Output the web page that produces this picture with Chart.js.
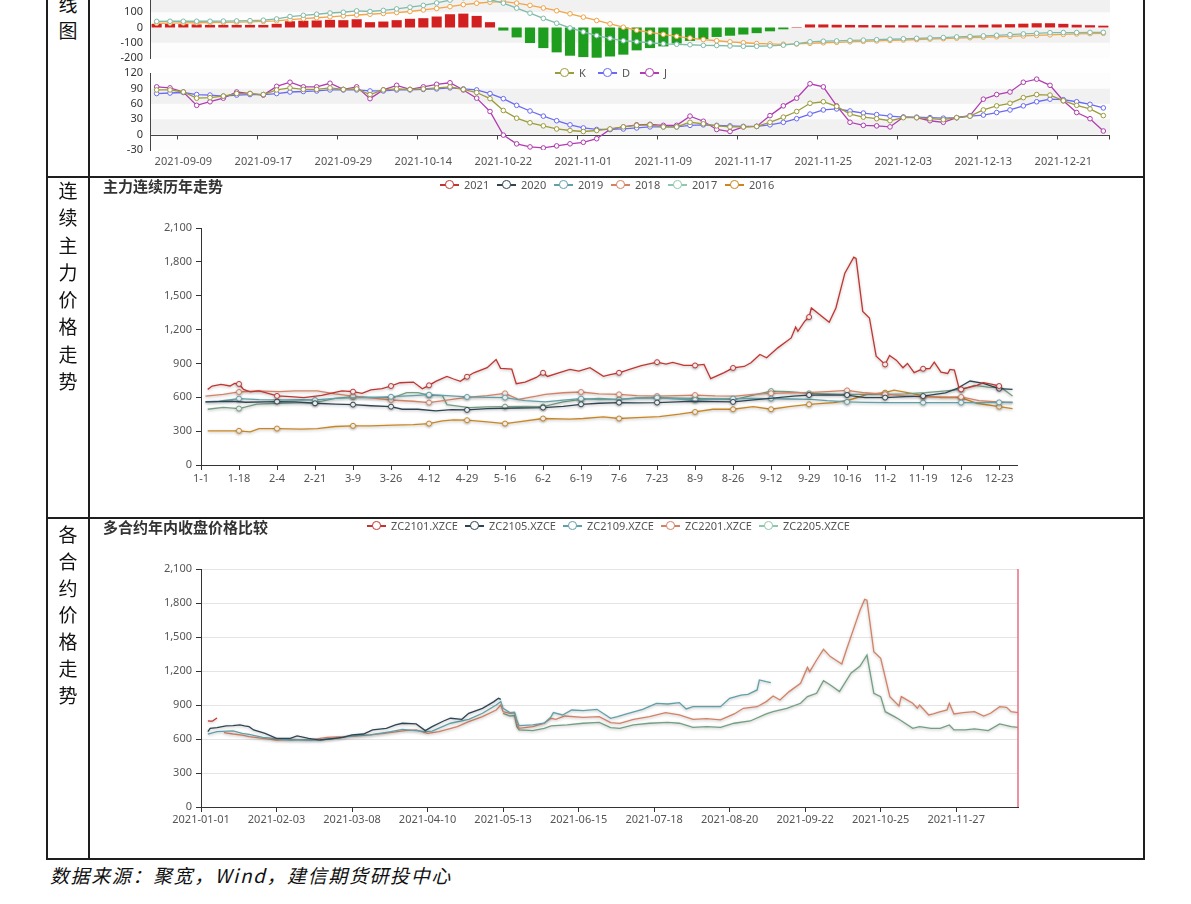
<!DOCTYPE html>
<html>
<head>
<meta charset="utf-8">
<script src="https://cdn.jsdelivr.net/npm/chart.js@4.4.1/dist/chart.umd.min.js"></script>
<style>
  body { margin: 0; width: 1191px; height: 904px; position: relative; overflow: hidden; background: #fff; font-family: "Noto Sans", "Noto Sans CJK SC", sans-serif; }
  canvas { position: absolute; }
  .ln { position: absolute; background: #1e1e1e; }
  .side { position: absolute; left: 47px; width: 42px; text-align: center; font-family: "Noto Sans CJK SC", sans-serif; font-size: 19px; color: #111; }
  .ttl { position: absolute; left: 103px; font-family: "Noto Sans CJK SC", sans-serif; font-weight: bold; font-size: 15px; line-height: 18px; color: #333; }
  .lg { position: absolute; font-size: 11px; line-height: 12px; color: #555; white-space: nowrap; }
  .ic { display: inline-block; position: relative; width: 19px; height: 1.5px; background: var(--c); vertical-align: middle; margin-right: 5px; top: -1px; }
  .ic::after { content: ""; position: absolute; left: 5px; top: -4px; width: 6.5px; height: 6.5px; border: 1.5px solid var(--c); border-radius: 50%; background: #fff; }
  .foot { position: absolute; left: 50px; top: 861px; font-family: "Noto Sans CJK SC", sans-serif; font-style: italic; font-size: 19px; letter-spacing: 1.6px; color: #111; }
</style>
</head>
<body>

<canvas id="macd" width="1053" height="93" style="left:90px;top:-20px"></canvas>
<canvas id="kdj" width="1053" height="116" style="left:90px;top:59px"></canvas>
<canvas id="hist" width="1053" height="320" style="left:90px;top:195px"></canvas>
<canvas id="contracts" width="1053" height="320" style="left:90px;top:536px"></canvas>

<!-- table frame -->
<div class="ln" style="left:46px;top:0;width:2px;height:860px"></div>
<div class="ln" style="left:88px;top:0;width:2px;height:860px"></div>
<div class="ln" style="left:1143px;top:0;width:2px;height:860px"></div>
<div class="ln" style="left:46px;top:176px;width:1099px;height:2px"></div>
<div class="ln" style="left:46px;top:517px;width:1099px;height:2px"></div>
<div class="ln" style="left:46px;top:858px;width:1099px;height:2px"></div>

<div class="side" style="top:-9px;line-height:26px">线<br>图</div>
<div class="side" style="top:176px;line-height:27.3px">连<br>续<br>主<br>力<br>价<br>格<br>走<br>势</div>
<div class="side" style="top:521px;line-height:26.8px">各<br>合<br>约<br>价<br>格<br>走<br>势</div>

<div class="ttl" style="top:177px">主力连续历年走势</div>
<div class="ttl" style="top:518px">多合约年内收盘价格比较</div>

<div class="lg" style="left:555px;top:67px"><i class="ic" style="--c:#9c9c3c"></i>K</div>
<div class="lg" style="left:598px;top:67px"><i class="ic" style="--c:#6b6bf2"></i>D</div>
<div class="lg" style="left:640px;top:67px"><i class="ic" style="--c:#b03cb0"></i>J</div>

<div class="lg" style="left:440px;top:179px"><i class="ic" style="--c:#c23531"></i>2021</div>
<div class="lg" style="left:497px;top:179px"><i class="ic" style="--c:#2f4554"></i>2020</div>
<div class="lg" style="left:554px;top:179px"><i class="ic" style="--c:#61a0a8"></i>2019</div>
<div class="lg" style="left:611px;top:179px"><i class="ic" style="--c:#d48265"></i>2018</div>
<div class="lg" style="left:668px;top:179px"><i class="ic" style="--c:#91c7ae"></i>2017</div>
<div class="lg" style="left:725px;top:179px"><i class="ic" style="--c:#ca8622"></i>2016</div>

<div class="lg" style="left:367px;top:520px"><i class="ic" style="--c:#c23531"></i>ZC2101.XZCE</div>
<div class="lg" style="left:465px;top:520px"><i class="ic" style="--c:#2f4554"></i>ZC2105.XZCE</div>
<div class="lg" style="left:563px;top:520px"><i class="ic" style="--c:#61a0a8"></i>ZC2109.XZCE</div>
<div class="lg" style="left:661px;top:520px"><i class="ic" style="--c:#d48265"></i>ZC2201.XZCE</div>
<div class="lg" style="left:759px;top:520px"><i class="ic" style="--c:#91c7ae"></i>ZC2205.XZCE</div>

<div class="foot">数据来源：聚宽，Wind，建信期货研投中心</div>

<script>
// ---------- top panel: MACD / KDJ, trading days 2021-09-07 .. 2021-12-24 ----------
const kDates = [
  '2021-09-07','2021-09-08','2021-09-09','2021-09-10','2021-09-13','2021-09-14','2021-09-15','2021-09-16','2021-09-17',
  '2021-09-22','2021-09-23','2021-09-24','2021-09-27','2021-09-28','2021-09-29','2021-09-30','2021-10-08','2021-10-11',
  '2021-10-12','2021-10-13','2021-10-14','2021-10-15','2021-10-18','2021-10-19','2021-10-20','2021-10-21','2021-10-22',
  '2021-10-25','2021-10-26','2021-10-27','2021-10-28','2021-10-29','2021-11-01','2021-11-02','2021-11-03','2021-11-04',
  '2021-11-05','2021-11-08','2021-11-09','2021-11-10','2021-11-11','2021-11-12','2021-11-15','2021-11-16','2021-11-17',
  '2021-11-18','2021-11-19','2021-11-22','2021-11-23','2021-11-24','2021-11-25','2021-11-26','2021-11-29','2021-11-30',
  '2021-12-01','2021-12-02','2021-12-03','2021-12-06','2021-12-07','2021-12-08','2021-12-09','2021-12-10','2021-12-13',
  '2021-12-14','2021-12-15','2021-12-16','2021-12-17','2021-12-20','2021-12-21','2021-12-22','2021-12-23','2021-12-24'
];
const dif = [40,41,41,41,41,42,43,45,48,56,72,80,87,95,100,109,105,112,122,133,145,161,180,195,197,183,160,127,94,60,28,-3,-29,-53,-71,-87,
  -93,-100,-107,-110,-113,-117,-118,-121,-123,-123,-120,-116,-106,-94,-90,-88,-85,-83,-80,-77,-74,-71,-69,-66,-62,-59,-55,-51,-47,-42,-38,-34,-33,-33,-32,-32];
const dea = [28,29,30,31,32,33,35,37,40,44,52,58,64,70,76,82,87,92,98,105,115,125,137,150,159,166,170,160,145,128,110,90,68,46,24,2,
  -18,-32,-45,-58,-69,-79,-87,-94,-100,-105,-108,-110,-108,-104,-100,-97,-94,-91,-88,-85,-82,-79,-76,-73,-70,-67,-64,-61,-58,-55,-52,-48,-45,-42,-40,-38];
const macdBar = [24,24,22,20,17,17,17,17,17,24,41,44,46,50,48,54,35,39,48,57,61,72,87,91,76,35,
  -20,-65,-102,-135,-163,-185,-194,-198,-190,-178,-150,-135,-124,-105,-88,-76,-62,-54,-46,-37,-25,-12,3,
  20,20,18,17,16,16,15,15,15,14,14,15,15,18,20,22,25,28,28,24,18,15,12];
const kLine = [87,87,83,71,72,75,80,80,78,87,91,88,88,91,88,89,78,87,89,88,89,91,93,88,82,70,47,32,23,17,11,8,6,8,11,15,18,
  19,15,15,24,21,17,15,15,16,24,34,45,61,64,55,40,34,31,27,33,33,31,29,33,36,48,56,61,72,78,77,66,57,50,37];
const dLine = [80,81,82,78,77,75,77,78,78,80,83,84,85,87,87,87,85,85,87,87,88,89,91,89,87,80,70,57,46,36,27,19,13,10,10,11,13,
  15,15,15,18,19,18,17,16,16,19,24,31,40,48,50,46,42,39,36,34,34,33,32,33,36,38,43,48,56,64,69,68,64,59,52];
const jLine = [93,91,83,57,64,71,83,80,77,94,102,93,93,100,88,93,70,87,96,88,93,98,101,87,71,45,-1,-18,-24,-26,-22,-18,-15,-8,10,15,19,
  20,18,18,36,26,10,6,15,16,37,56,71,99,93,56,24,18,17,15,34,33,27,24,33,37,69,78,83,102,108,96,66,43,31,7];

// ---------- middle panel: main continuous contract by year, [day of year (0 = 1-1), price] ----------
const y2021 = [[3,670],[5,700],[9,715],[13,700],[15,722],[17,718],[19,670],[22,648],[26,656],[30,635],[34,612],[40,606],[46,597],
  [54,617],[59,640],[63,656],[68,650],[72,635],[76,665],[81,676],[85,700],[89,729],[95,735],[99,676],[102,706],[105,741],[110,785],
  [113,762],[116,741],[119,782],[122,817],[128,862],[132,935],[134,856],[139,850],[141,720],[145,735],[150,776],[153,817],[155,785],
  [160,817],[165,847],[169,832],[174,862],[180,785],[183,800],[187,817],[192,850],[197,880],[204,911],[208,894],[211,909],[216,882],
  [221,882],[225,891],[228,765],[234,818],[238,860],[243,873],[246,906],[250,979],[253,950],[258,1038],[264,1126],[266,1223],
  [267,1185],[270,1273],[272,1311],[273,1391],[281,1264],[284,1391],[288,1700],[292,1841],[293,1830],[296,1361],[299,1303],
  [302,964],[306,891],[308,970],[311,929],[314,862],[316,900],[319,818],[323,853],[326,855],[328,911],[331,823],[334,811],
  [335,847],[337,841],[339,685],[340,670],[344,690],[347,706],[350,729],[354,715],[357,700],[358,695]];
const y2020 = [[2,559],[8,562],[14,565],[20,556],[34,562],[42,560],[51,547],[60,540],[68,535],[76,525],[85,517],[90,494],[97,494],
  [105,480],[112,490],[119,488],[128,500],[142,505],[153,509],[162,520],[170,538],[178,547],[187,553],[195,550],[204,553],[213,560],
  [219,565],[230,562],[238,559],[246,575],[258,597],[265,610],[272,620],[280,622],[289,620],[297,597],[306,597],[315,605],[323,611],
  [333,640],[338,676],[344,744],[350,723],[357,676],[363,670]];
const y2019 = [[2,559],[8,565],[17,588],[26,580],[38,576],[45,578],[51,576],[60,590],[70,597],[78,600],[85,605],[95,615],[102,623],
  [110,615],[119,603],[128,600],[136,597],[145,570],[154,559],[162,575],[170,588],[178,580],[188,582],[195,590],[204,597],[213,585],
  [221,576],[230,585],[238,588],[247,590],[255,588],[263,585],[273,582],[280,570],[289,559],[297,555],[307,553],[315,553],[323,553],
  [332,553],[340,553],[348,553],[357,555],[363,556]];
const y2018 = [[2,611],[10,625],[17,647],[25,656],[35,650],[42,656],[52,656],[60,630],[68,611],[76,595],[85,576],[95,565],[102,553],
  [110,575],[118,597],[128,615],[136,635],[142,582],[150,610],[154,626],[162,640],[170,647],[178,630],[187,626],[195,615],[204,611],
  [213,615],[221,620],[230,612],[239,611],[247,625],[255,635],[263,640],[271,641],[280,650],[289,661],[297,640],[306,626],[315,612],
  [323,603],[332,603],[340,603],[348,570],[356,559],[363,553]];
const y2017 = [[3,494],[10,510],[17,500],[25,540],[35,547],[42,550],[51,553],[60,590],[68,605],[76,600],[86,597],[92,641],[97,641],
  [102,620],[108,615],[110,535],[120,509],[128,515],[136,517],[145,520],[153,517],[162,560],[170,582],[178,590],[187,582],[195,595],
  [205,597],[213,592],[221,590],[230,585],[239,582],[247,620],[255,655],[263,650],[272,635],[280,630],[289,626],[297,626],[306,626],
  [315,630],[324,641],[332,655],[340,670],[346,705],[352,690],[358,685],[363,611]];
const y2016 = [[3,303],[17,303],[22,294],[26,323],[34,323],[45,318],[52,323],[60,341],[68,347],[76,347],[86,353],[95,358],[102,367],
  [108,391],[113,400],[119,397],[128,382],[136,367],[142,382],[153,412],[165,406],[171,412],[180,426],[187,412],[195,420],[205,429],
  [214,450],[221,470],[229,494],[238,494],[247,517],[255,494],[263,517],[272,538],[283,553],[290,576],[298,626],[306,641],[310,664],
  [316,641],[324,611],[331,597],[340,597],[347,547],[357,517],[363,500]];

// ---------- bottom panel: contracts in 2021, [days since 2021-01-01, close] ----------
const zc2101 = [[3,760],[4,758],[5,757],[6,772],[7,785]];
const zc2105 = [[3,665],[4,694],[7,700],[11,715],[14,718],[17,724],[19,715],[21,709],[23,680],[28,650],[33,606],[39,606],[42,627],
  [47,606],[52,591],[56,600],[62,615],[66,636],[71,644],[75,680],[81,694],[85,724],[88,739],[94,733],[98,674],[101,709],[106,759],
  [109,783],[114,774],[117,827],[123,871],[128,930],[130,959],[131,950]];
const zc2109 = [[3,644],[7,665],[14,671],[18,650],[21,640],[27,615],[39,591],[51,591],[59,606],[66,627],[74,636],[83,665],[88,685],
  [98,665],[101,670],[109,739],[117,774],[123,827],[129,900],[131,930],[132,871],[135,833],[137,836],[138,768],[139,718],[145,724],
  [150,739],[153,797],[154,833],[158,812],[162,856],[167,850],[173,862],[179,783],[182,797],[186,821],[193,862],[199,915],[204,909],
  [209,921],[212,865],[215,885],[227,885],[231,959],[236,988],[239,994],[243,1033],[244,1121],[247,1106],[249,1097]];
const zc2201 = [[10,656],[14,644],[18,635],[21,621],[27,606],[33,591],[40,597],[47,591],[55,615],[62,621],[68,627],[74,636],[80,650],
  [89,674],[94,680],[99,650],[104,665],[112,709],[117,753],[123,797],[129,856],[131,900],[132,841],[135,827],[137,830],[138,739],
  [139,694],[145,709],[150,739],[153,783],[155,774],[159,803],[167,791],[174,797],[179,744],[183,738],[189,774],[196,797],[203,833],
  [209,812],[215,774],[221,780],[227,768],[233,821],[237,871],[243,885],[247,930],[250,980],[253,944],[257,1018],[262,1091],
  [265,1232],[266,1194],[269,1297],[272,1391],[275,1327],[280,1262],[282,1385],[284,1503],[288,1738],[290,1832],[291,1825],
  [294,1371],[297,1312],[301,974],[305,891],[306,974],[311,915],[313,871],[314,900],[318,812],[320,821],[322,835],[326,856],
  [327,915],[329,821],[333,833],[338,841],[342,803],[345,827],[349,885],[352,880],[354,841],[357,833]];
const zc2205 = [[132,827],[135,803],[137,806],[138,709],[139,680],[145,674],[150,694],[153,715],[160,724],[167,739],[174,747],
  [179,700],[183,694],[189,724],[196,739],[204,747],[209,739],[215,703],[221,709],[227,703],[233,739],[240,759],[247,821],[250,841],
  [256,871],[262,915],[265,974],[269,1003],[272,1115],[275,1077],[279,1018],[284,1180],[288,1244],[291,1341],[294,1003],[297,974],
  [299,841],[303,797],[305,774],[311,694],[314,709],[319,694],[323,694],[327,724],[329,680],[334,680],[338,690],[344,674],[349,733],
  [354,709],[357,703]];

// category labels
const mdLabels = [];
for (let d = new Date(2020, 0, 1); d.getFullYear() === 2020; d.setDate(d.getDate() + 1)) {
  mdLabels.push((d.getMonth() + 1) + '-' + d.getDate());
}
const pad2 = n => (n < 10 ? '0' : '') + n;
const dayLabels = [];
for (let i = 0; i < 358; i++) {
  const d = new Date(2021, 0, 1 + i);
  dayLabels.push(d.getFullYear() + '-' + pad2(d.getMonth() + 1) + '-' + pad2(d.getDate()));
}

function spread(n, pairs) {
  const a = new Array(n).fill(null);
  pairs.forEach(([d, v]) => { a[d] = v; });
  return a;
}

Chart.defaults.font.family = '"Noto Sans", sans-serif';
Chart.defaults.font.size = 11;
Chart.defaults.color = '#555';

// alternating background bands between y ticks (bottom band first)
const bandsPlugin = {
  id: 'bands',
  beforeDraw(chart, args, opts) {
    const { ctx, chartArea: a, scales: { y } } = chart;
    const vals = y.ticks.map(t => t.value).sort((p, q) => p - q);
    ctx.save();
    for (let k = 0; k < vals.length - 1; k++) {
      const y1 = y.getPixelForValue(vals[k]), y2 = y.getPixelForValue(vals[k + 1]);
      ctx.fillStyle = opts.colors[k % opts.colors.length];
      ctx.fillRect(a.left, y2, a.right - a.left, y1 - y2);
    }
    ctx.restore();
  }
};

// x axis line sitting on the zero value, with ticks at category boundaries
const zeroAxisPlugin = {
  id: 'zeroAxis',
  beforeDatasetsDraw(chart) {
    const { ctx, chartArea: a, scales: { x, y } } = chart;
    const y0 = Math.round(y.getPixelForValue(0)) + 0.5;
    const half = (a.right - a.left) / x.getLabels().length / 2;
    ctx.save();
    ctx.strokeStyle = '#444';
    ctx.lineWidth = 1;
    ctx.beginPath();
    ctx.moveTo(a.left, y0); ctx.lineTo(a.right, y0);
    x.ticks.forEach(t => {
      const px = Math.round(x.getPixelForValue(t.value) - half) + 0.5;
      ctx.moveTo(px, y0); ctx.lineTo(px, y0 + 4);
    });
    ctx.moveTo(a.right - 0.5, y0); ctx.lineTo(a.right - 0.5, y0 + 4);
    ctx.stroke();
    ctx.restore();
  }
};

const shadowPlugin = {
  id: 'lineShadow',
  beforeDatasetsDraw(chart) {
    const ctx = chart.ctx;
    ctx.save();
    ctx.shadowColor = 'rgba(0,0,0,0.28)';
    ctx.shadowBlur = 3;
    ctx.shadowOffsetY = 1;
  },
  afterDatasetsDraw(chart) { chart.ctx.restore(); }
};

// vertical marker on the last date
const lastDayPlugin = {
  id: 'lastDay',
  afterDatasetsDraw(chart) {
    const { ctx, chartArea: a, scales: { x } } = chart;
    const px = Math.round(x.getPixelForValue(x.getLabels().length - 1));
    ctx.save();
    ctx.strokeStyle = '#e86d80';
    ctx.lineWidth = 1.5;
    ctx.beginPath();
    ctx.moveTo(px, a.top); ctx.lineTo(px, a.bottom);
    ctx.stroke();
    ctx.restore();
  }
};

function lineSet(label, data, color, radius) {
  return {
    type: 'line', label, data, borderColor: color, backgroundColor: color,
    borderWidth: 1.3, pointRadius: radius, pointBorderWidth: 1, pointBackgroundColor: '#fff',
    pointBorderColor: color, tension: 0, spanGaps: true
  };
}

// MACD
new Chart(document.getElementById('macd'), {
  data: {
    labels: kDates,
    datasets: [
      lineSet('DIF', dif, '#80bba9', 2.3),
      lineSet('DEA', dea, '#f0a54a', 2.3),
      { type: 'bar', label: 'MACD', data: macdBar,
        backgroundColor: macdBar.map(v => v >= 0 ? '#d21f1f' : '#1f9d1f'),
        barPercentage: 0.76, categoryPercentage: 1 }
    ]
  },
  options: {
    responsive: false, animation: false,
    layout: { padding: { top: 17, bottom: 15, left: 0, right: 33 } },
    plugins: { legend: { display: false }, tooltip: { enabled: false }, bands: { colors: ['#fdfdfd', '#f1f1f1'] } },
    scales: {
      x: { display: false, offset: true },
      y: { min: -200, max: 200, ticks: { stepSize: 100, padding: 7, color: '#333', autoSkip: false },
           grid: { display: false, drawTicks: false }, border: { color: '#444' },
           afterFit: s => { s.width = 60; } }
    }
  },
  plugins: [bandsPlugin]
});

// KDJ
new Chart(document.getElementById('kdj'), {
  type: 'line',
  data: {
    labels: kDates,
    datasets: [
      lineSet('K', kLine, '#9c9c3c', 2.3),
      lineSet('D', dLine, '#6b6bf2', 2.3),
      lineSet('J', jLine, '#b03cb0', 2.3)
    ]
  },
  options: {
    responsive: false, animation: false,
    layout: { padding: { top: 14, bottom: 0, left: 0, right: 33 } },
    plugins: { legend: { display: false }, tooltip: { enabled: false }, bands: { colors: ['#fdfdfd', '#f1f1f1'] } },
    scales: {
      x: { offset: true, grid: { display: false, drawTicks: false }, border: { display: false },
           ticks: { autoSkip: false, maxRotation: 0, padding: 5, color: '#555' },
           afterBuildTicks: s => { s.ticks = s.ticks.filter(t => t.value % 6 === 2); },
           afterFit: s => { s.height = 25; } },
      y: { min: -30, max: 120, ticks: { stepSize: 30, padding: 7, color: '#333', autoSkip: false },
           grid: { display: false, drawTicks: false }, border: { color: '#444' },
           afterFit: s => { s.width = 60; } }
    }
  },
  plugins: [bandsPlugin, zeroAxisPlugin]
});

const yearRadius = c => (c.index % 17 === 0 ? 2.5 : 0);

// main continuous by year
new Chart(document.getElementById('hist'), {
  type: 'line',
  data: {
    labels: mdLabels,
    datasets: [
      lineSet('2021', spread(366, y2021), '#c23531', yearRadius),
      lineSet('2020', spread(366, y2020), '#2f4554', yearRadius),
      lineSet('2019', spread(366, y2019), '#61a0a8', yearRadius),
      lineSet('2018', spread(366, y2018), '#d48265', yearRadius),
      lineSet('2017', spread(366, y2017), '#749f83', yearRadius),
      lineSet('2016', spread(366, y2016), '#ca8622', yearRadius)
    ]
  },
  options: {
    responsive: false, animation: false,
    layout: { padding: { top: 33, bottom: 0, left: 0, right: 126 } },
    plugins: { legend: { display: false }, tooltip: { enabled: false } },
    scales: {
      x: { grid: { drawOnChartArea: false, tickLength: 5, tickColor: '#333' }, border: { color: '#333' },
           ticks: { autoSkip: false, maxRotation: 0, padding: 2 },
           afterBuildTicks: s => { s.ticks = s.ticks.filter(t => t.value % 17 === 0); },
           afterFit: s => { s.height = 50; } },
      y: { min: 0, max: 2100, ticks: { stepSize: 300, padding: 4, callback: v => v.toLocaleString('en-US') },
           grid: { drawOnChartArea: false, tickLength: 5, tickColor: '#333' }, border: { color: '#333' },
           afterFit: s => { s.width = 111; } }
    }
  },
  plugins: [shadowPlugin]
});

// contracts within 2021
new Chart(document.getElementById('contracts'), {
  type: 'line',
  data: {
    labels: dayLabels,
    datasets: [
      lineSet('ZC2101.XZCE', spread(358, zc2101), '#c23531', 0),
      lineSet('ZC2105.XZCE', spread(358, zc2105), '#2f4554', 0),
      lineSet('ZC2109.XZCE', spread(358, zc2109), '#61a0a8', 0),
      lineSet('ZC2201.XZCE', spread(358, zc2201), '#d48265', 0),
      lineSet('ZC2205.XZCE', spread(358, zc2205), '#749f83', 0)
    ]
  },
  options: {
    responsive: false, animation: false,
    layout: { padding: { top: 33, bottom: 0, left: 0, right: 125 } },
    plugins: { legend: { display: false }, tooltip: { enabled: false } },
    scales: {
      x: { grid: { drawOnChartArea: false, tickLength: 5, tickColor: '#333' }, border: { color: '#333' },
           ticks: { autoSkip: false, maxRotation: 0, padding: 1 },
           afterBuildTicks: s => { s.ticks = s.ticks.filter(t => t.value % 33 === 0); },
           afterFit: s => { s.height = 49; } },
      y: { min: 0, max: 2100, ticks: { stepSize: 300, padding: 4, callback: v => v.toLocaleString('en-US') },
           grid: { color: '#e4e4e4', tickLength: 5, tickColor: '#333' }, border: { color: '#333' },
           afterFit: s => { s.width = 111; } }
    }
  },
  plugins: [shadowPlugin, lastDayPlugin]
});
</script>
</body>
</html>
